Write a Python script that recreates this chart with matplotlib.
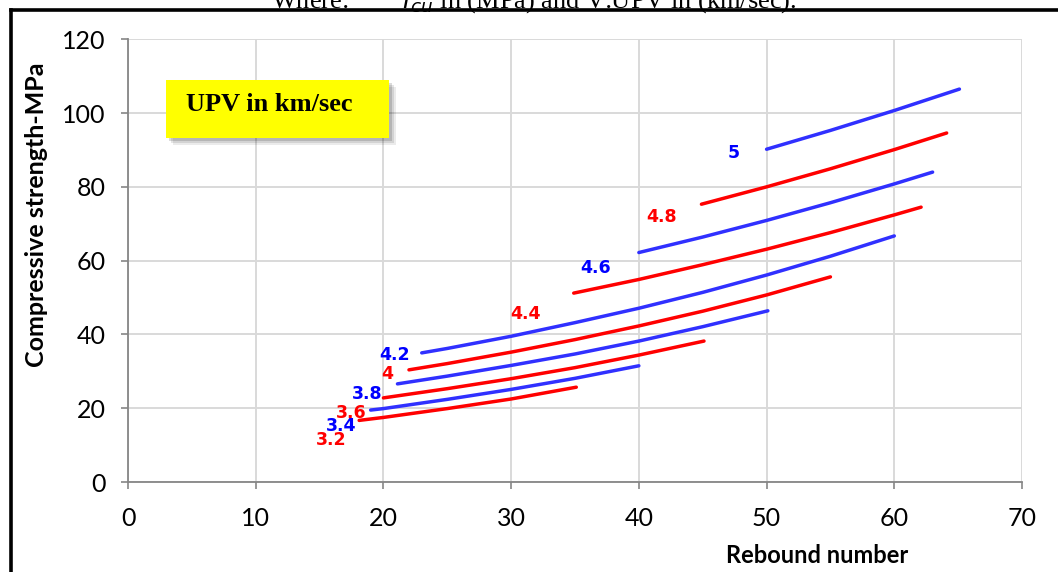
import matplotlib.pyplot as plt
from matplotlib.lines import Line2D
from matplotlib.patches import Rectangle

# UPV curves: rebound number vs compressive strength (MPa)
upv_labels = ['3.2', '3.4', '3.6', '3.8', '4', '4.2', '4.4', '4.6', '4.8', '5']
rebound = [
    [18.1, 20, 25, 30, 35.1],
    [19.0, 20, 25, 30, 35, 40.0],
    [20.0, 25, 30, 35, 40, 45.1],
    [21.1, 25, 30, 35, 40, 45, 50.1],
    [22.0, 25, 30, 35, 40, 45, 50, 55.0],
    [23.0, 25, 30, 35, 40, 45, 50, 55, 60.0],
    [34.9, 40, 45, 50, 55, 60, 62.1],
    [40.0, 45, 50, 55, 60, 63.0],
    [44.9, 50, 55, 60, 64.1],
    [50.0, 55, 60, 65.1],
]
strength = [
    [16.7, 17.5, 19.9, 22.5, 25.7],
    [19.5, 19.9, 22.4, 25.1, 28.1, 31.5],
    [22.8, 25.3, 28.0, 31.0, 34.4, 38.2],
    [26.6, 28.7, 31.6, 34.7, 38.2, 42.1, 46.4],
    [30.4, 32.1, 35.2, 38.6, 42.3, 46.3, 50.7, 55.6],
    [35.0, 36.2, 39.5, 43.2, 47.1, 51.4, 56.1, 61.2, 66.7],
    [51.2, 54.9, 58.9, 63.1, 67.6, 72.4, 74.5],
    [62.2, 66.4, 70.9, 75.7, 80.8, 84.0],
    [75.3, 80.0, 84.9, 90.1, 94.6],
    [90.2, 95.3, 100.7, 106.5],
]
# where each UPV value is written on the chart
label_x = [15.9, 16.7, 17.5, 18.7, 20.3, 20.9, 31.1, 36.6, 41.8, 47.4]
label_y = [11.4, 15.2, 18.7, 23.8, 29.3, 34.4, 45.5, 58.0, 71.8, 89.2]

x_ticks = [0, 10, 20, 30, 40, 50, 60, 70]
y_ticks = [0, 20, 40, 60, 80, 100, 120]

RED = '#ff0000'
BLUE_LINE = '#3030ff'
BLUE_TEXT = '#0000ff'

fig = plt.figure(figsize=(10.58, 5.72), dpi=100)
ax = fig.add_axes([128 / 1058, 90 / 572, 894 / 1058, 442.7 / 572])

for i, lab in enumerate(upv_labels):
    line_col = RED if i % 2 == 0 else BLUE_LINE
    text_col = RED if i % 2 == 0 else BLUE_TEXT
    ax.plot(rebound[i], strength[i], color=line_col, lw=2.5,
            solid_capstyle='round', solid_joinstyle='round', zorder=3)
    ax.text(label_x[i], label_y[i], lab, color=text_col, fontsize=12.5,
            fontweight='bold', ha='center', va='center', zorder=4)

ax.set_xlim(0, 70)
ax.set_ylim(0, 120)
ax.set_xticks(x_ticks)
ax.set_yticks(y_ticks)
ax.grid(True, color='#d9d9d9', lw=1.4)
ax.set_axisbelow(True)
for side in ['top', 'right']:
    ax.spines[side].set_visible(False)
for side in ['left', 'bottom']:
    ax.spines[side].set_color('#868686')
    ax.spines[side].set_linewidth(1.3)
ax.tick_params(colors='#868686', length=5, width=1.2, labelcolor='black',
               labelsize=18)
for lbl in ax.get_xticklabels() + ax.get_yticklabels():
    lbl.set_family('Lato')
ax.tick_params(axis='x', pad=13)
ax.tick_params(axis='y', pad=11)

ax.set_xlabel('Rebound number', fontsize=17, fontweight='bold', family='Lato',
              va='center')
ax.xaxis.set_label_coords(0.771, -0.165)
ax.set_ylabel('Compressive strength-MPa', fontsize=18, fontweight='bold',
              family='Lato', va='center')
ax.yaxis.set_label_coords(-0.102, 0.603)

# yellow box with a soft shadow
bx0, by0, bw, bh = 166 / 1058, 1 - 138 / 572, 223 / 1058, 58 / 572
for k, a in enumerate([0.08, 0.10, 0.14]):
    off = (7 - 2 * k)
    fig.patches.append(Rectangle((bx0 + off / 1058, by0 - off / 572), bw, bh,
                                 transform=fig.transFigure, color='black',
                                 alpha=a, lw=0, zorder=5))
fig.patches.append(Rectangle((bx0, by0), bw, bh, transform=fig.transFigure,
                             facecolor='#ffff00', edgecolor='none', zorder=6))
fig.text(269 / 1058, 1 - 104 / 572, 'UPV in km/sec', family='Liberation Serif',
         fontweight='bold', fontsize=19, ha='center', va='center', zorder=7)

# caption line from the page, cut by the frame
fig.text(534 / 1058, 1 - 1 / 572,
         r'Where:        $f_{cu}$ in (MPa) and V:UPV in (km/sec).',
         family='Liberation Serif', fontsize=19, ha='center', va='center')

# black page frame
fig.lines.append(Line2D([11 / 1058, 1], [1 - 10 / 572, 1 - 10 / 572],
                        transform=fig.transFigure, color='black', lw=2.6))
fig.lines.append(Line2D([11 / 1058, 11 / 1058], [0, 1 - 10 / 572],
                        transform=fig.transFigure, color='black', lw=2.6))

fig.savefig('out.png', dpi=100)
